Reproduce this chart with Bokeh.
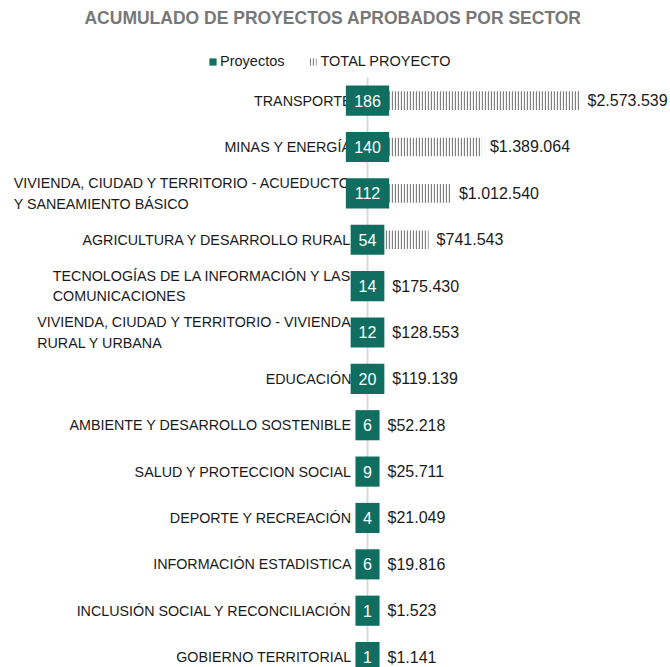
from bokeh.plotting import figure
from bokeh.models import ColumnDataSource, Range1d, Legend, LegendItem
from bokeh.core.properties import value
from bokeh.embed import file_html
from bokeh.resources import INLINE

sectores = [
    "TRANSPORTE",
    "MINAS Y ENERGÍA",
    "VIVIENDA, CIUDAD Y TERRITORIO - ACUEDUCTO\nY SANEAMIENTO BÁSICO",
    "AGRICULTURA Y DESARROLLO RURAL",
    "TECNOLOGÍAS DE LA INFORMACIÓN Y LAS\nCOMUNICACIONES",
    "VIVIENDA, CIUDAD Y TERRITORIO - VIVIENDA\nRURAL Y URBANA",
    "EDUCACIÓN",
    "AMBIENTE Y DESARROLLO SOSTENIBLE",
    "SALUD Y PROTECCION SOCIAL",
    "DEPORTE Y RECREACIÓN",
    "INFORMACIÓN ESTADISTICA",
    "INCLUSIÓN SOCIAL Y RECONCILIACIÓN",
    "GOBIERNO TERRITORIAL",
]
proyectos = [186, 140, 112, 54, 14, 12, 20, 6, 9, 4, 6, 1, 1]
total_proyecto = [2573539, 1389064, 1012540, 741543, 175430, 128553, 119139,
                  52218, 25711, 21049, 19816, 1523, 1141]

FONT = "Liberation Sans"
GREEN = "#0f6e60"
GREY = "#808080"

W, H = 670, 667
upx = 12136.0
x_start, x_end = -367 * upx, (W - 367) * upx

n = len(sectores)
idx = list(range(n))
box_px = [14.5 + 9.6 * len(str(v)) for v in proyectos]
lbl_x = [max(v, b / 2 * upx) for v, b in zip(total_proyecto, box_px)]
src = ColumnDataSource(dict(
    y=idx,
    sector=sectores,
    proyectos=proyectos,
    proy_txt=[str(v) for v in proyectos],
    total=total_proyecto,
    total_txt=["$" + f"{v:,}".replace(",", ".") for v in total_proyecto],
    box=box_px,
    lx=lbl_x,
))

T = 33
y_top = -(101 - T) / 46.3
y_bot = (667 - 101) / 46.3

p = figure(width=W, height=H, output_backend="svg", toolbar_location=None,
           x_range=Range1d(x_start, x_end), y_range=Range1d(y_bot, y_top),
           x_axis_location=None, y_axis_location=None, min_border=0,
           title="ACUMULADO DE PROYECTOS APROBADOS  POR SECTOR")
p.outline_line_color = None
p.xgrid.visible = False
p.ygrid.visible = False
p.title.align = "center"
p.title.text_font = FONT
p.title.text_font_size = "17.5px"
p.title.text_font_style = "bold"
p.title.text_color = "#777777"
p.title.padding = 4
p.title.standoff = 2

bars = p.hbar(y="y", left=0, right="total", height=0.4, source=src,
              fill_color=None, line_color=None,
              hatch_pattern="|", hatch_color=GREY, hatch_scale=3, hatch_weight=1.3)

p.segment(x0=0, y0=-0.5, x1=0, y1=n + 0.5, line_color="#d9d9d9", line_width=2)

p.text(x=0, y="y", text="sector", source=src, x_offset=-16,
       anchor="center_right", text_align="left", text_baseline="middle",
       text_font=value(FONT), text_font_size="14.3px", text_color="#1a1a1a",
       text_line_height=1.3)

boxes = p.rect(x=0, y="y", width="box", width_units="screen", height=0.65,
               source=src, fill_color=GREEN, line_color=None)

p.text(x=0, y="y", text="proy_txt", source=src, text_align="center",
       text_baseline="middle", text_font=value(FONT), text_font_size="16px",
       text_color="white")

p.text(x="lx", y="y", text="total_txt", source=src, x_offset=8,
       text_align="left", text_baseline="middle", text_font=value(FONT),
       text_font_size="16px", text_color="#1a1a1a")

legend = Legend(items=[LegendItem(label="Proyectos", renderers=[boxes]),
                       LegendItem(label="TOTAL PROYECTO", renderers=[bars])],
                orientation="horizontal", location=(208, 596),
                padding=0, margin=0, spacing=24, glyph_width=9, glyph_height=9,
                label_standoff=3, label_height=20,
                label_text_font=FONT, label_text_font_size="14.5px",
                label_text_color="#1a1a1a",
                border_line_color=None, background_fill_alpha=0)
p.add_layout(legend)

open("out.html", "w").write(file_html(p, INLINE))
